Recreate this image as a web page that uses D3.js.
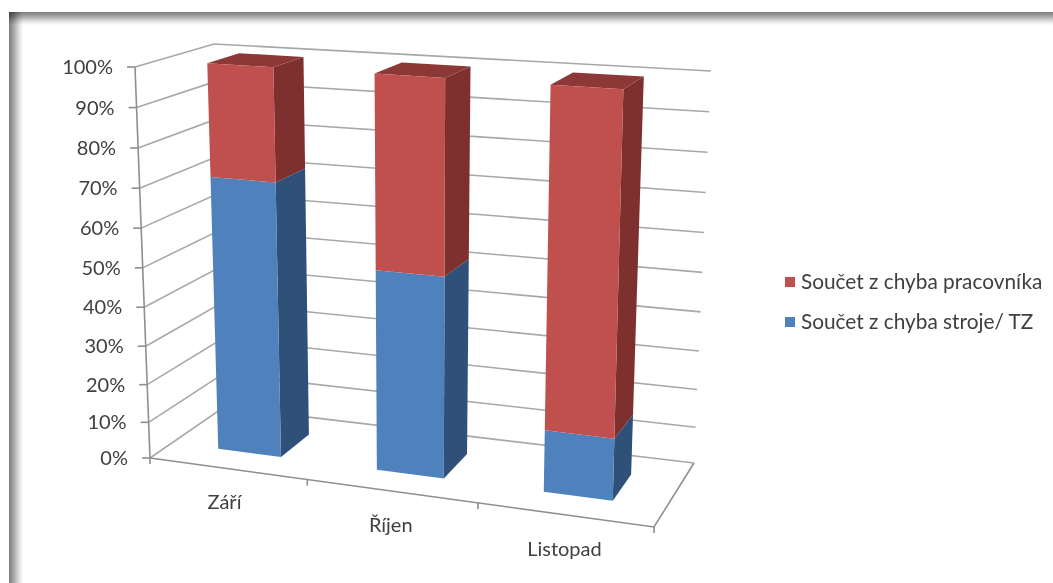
<!DOCTYPE html>
<html>
<head>
<meta charset="utf-8">
<script src="https://cdn.jsdelivr.net/npm/d3@7/dist/d3.min.js"></script>
<style>
  html, body { margin: 0; padding: 0; background: #fff; }
  svg { display: block; }
  text { font-family: Lato, "Open Sans", sans-serif; fill: #404040; }
</style>
</head>
<body>
<svg id="chart" width="1053" height="583"></svg>
<script>
// Monthly share of defects by cause (100 % stacked columns)
const categories = ["Září", "Říjen", "Listopad"];
const machineShare = [71.4, 51.7, 16.2];
const workerShare = [28.6, 48.3, 83.8];
const percentTicks = [0, 10, 20, 30, 40, 50, 60, 70, 80, 90, 100];
const seriesNames = ["Součet z chyba pracovníka", "Součet z chyba stroje/ TZ"];

const WIDTH = 1053, HEIGHT = 583;
const palette = {
  worker: { front: "#c0504d", side: "#7d302e", top: "#8c3836" },
  machine: { front: "#4f81bd", side: "#2f5078", top: "#3a6595" }
};

// Corners of the plot box on screen: [category end, value end, depth end]
const box = {
  "000": [150, 458], "100": [654, 527], "001": [224, 407], "101": [694, 463],
  "010": [135, 67],  "110": [666, 102], "011": [214, 44],  "111": [711, 71]
};

// Data axes map to unit cube coordinates, with a slight perspective bend
const xScale = d3.scalePow().exponent(1.06).domain([0, categories.length]).range([0, 1]);
const yScale = d3.scalePow().exponent(1.04).domain([0, 100]).range([0, 1]);
const zScale = d3.scaleLinear().domain([0, 1]).range([0, 1]);

// Trilinear interpolation between the box corners
function project(cat, pct, depth) {
  const u = xScale(cat), v = yScale(pct), w = zScale(depth);
  const pt = [0, 0];
  for (const a of [0, 1]) for (const b of [0, 1]) for (const c of [0, 1]) {
    const k = (a ? u : 1 - u) * (b ? v : 1 - v) * (c ? w : 1 - w);
    const p = box[`${a}${b}${c}`];
    pt[0] += k * p[0];
    pt[1] += k * p[1];
  }
  return pt;
}

const svg = d3.select("#chart");
const defs = svg.append("defs");
const line = d3.line();
const closed = d3.line().curve(d3.curveLinearClosed);

// Picture frame shading along the top and left edges
function frameGradient(id, x2, y2) {
  const g = defs.append("linearGradient").attr("id", id)
    .attr("x1", 0).attr("y1", 0).attr("x2", x2).attr("y2", y2);
  [[0, "#7c7c7c"], [0.35, "#a8a8a8"], [0.7, "#dedede"], [1, "#ffffff"]]
    .forEach(([o, c]) => g.append("stop").attr("offset", o).attr("stop-color", c));
}
frameGradient("frameTop", 0, 1);
frameGradient("frameLeft", 1, 0);
svg.append("rect").attr("x", 9).attr("y", 12).attr("width", 14).attr("height", HEIGHT - 12)
  .attr("fill", "url(#frameLeft)").style("mix-blend-mode", "multiply");
svg.append("rect").attr("x", 9).attr("y", 12).attr("width", WIDTH - 9).attr("height", 13)
  .attr("fill", "url(#frameTop)").style("mix-blend-mode", "multiply");

// Wall gridlines, front-left around to the back-right corner
const grid = svg.append("g").attr("fill", "none").attr("stroke", "#a8a8a8").attr("stroke-width", 1.6);
percentTicks.forEach(t => {
  grid.append("path").attr("d", line([project(0, t, 0), project(0, t, 1), project(3, t, 1)]));
});

// Value axis, floor edges, and tick marks
const axis = svg.append("g").attr("fill", "none").attr("stroke", "#8f8f8f").attr("stroke-width", 1.6);
axis.append("path").attr("d", line([project(0, 100, 0), project(0, 0, 0)]));
axis.append("path").attr("d", line([project(0, 0, 0), project(3, 0, 0), project(3, 0, 1)]));
percentTicks.forEach(t => {
  const p = project(0, t, 0);
  axis.append("path").attr("d", line([[p[0] - 8, p[1]], p]));
});
d3.range(categories.length + 1).forEach(i => {
  const p = project(i, 0, 0);
  axis.append("path").attr("d", line([p, [p[0], p[1] + 6]]));
});

// Value labels
svg.append("g").selectAll("text").data(percentTicks).join("text")
  .attr("x", d => project(0, d, 0)[0] - 22)
  .attr("y", d => project(0, d, 0)[1])
  .attr("dy", "0.35em")
  .attr("text-anchor", "end")
  .attr("font-size", 20)
  .text(d => d + "%");

// Category labels
svg.append("g").selectAll("text").data(categories).join("text")
  .attr("x", (d, i) => project(i + 0.5, 0, 0)[0] - 1)
  .attr("y", (d, i) => project(i + 0.5, 0, 0)[1] + 34)
  .attr("dy", "0.35em")
  .attr("text-anchor", "middle")
  .attr("font-size", 20)
  .text(d => d);

// Draws one box segment of a column between two value levels
function drawSegment(g, x0, x1, z0, z1, lo, hi, colors, withTop) {
  const face = (pts, fill) => g.append("path").attr("d", closed(pts)).attr("fill", fill);
  face([project(x1, lo, z0), project(x1, lo, z1), project(x1, hi, z1), project(x1, hi, z0)], colors.side);
  if (withTop) face([project(x0, hi, z0), project(x1, hi, z0), project(x1, hi, z1), project(x0, hi, z1)], colors.top);
  face([project(x0, lo, z0), project(x1, lo, z0), project(x1, hi, z0), project(x0, hi, z0)], colors.front);
}

const BAR_HALF = 0.2, Z_FRONT = 0.3, Z_BACK = 0.72;
const barCenter = i => i + 0.52 - 0.013 * i;
const bars = svg.append("g");
categories.forEach((c, i) => {
  const g = bars.append("g");
  const x0 = barCenter(i) - BAR_HALF, x1 = barCenter(i) + BAR_HALF;
  const split = machineShare[i];
  drawSegment(g, x0, x1, Z_FRONT, Z_BACK, 0, split, palette.machine, false);
  drawSegment(g, x0, x1, Z_FRONT, Z_BACK, split, split + workerShare[i], palette.worker, true);
});

// Legend
const legendRows = [
  { name: seriesNames[0], color: palette.worker.front, cy: 282 },
  { name: seriesNames[1], color: palette.machine.front, cy: 322 }
];
const legend = svg.append("g");
legend.selectAll("rect").data(legendRows).join("rect")
  .attr("x", 785).attr("y", d => d.cy - 5).attr("width", 10).attr("height", 10)
  .attr("fill", d => d.color);
legend.selectAll("text").data(legendRows).join("text")
  .attr("x", 801).attr("y", d => d.cy).attr("dy", "0.35em")
  .attr("font-size", 20.8)
  .text(d => d.name);
</script>
</body>
</html>
